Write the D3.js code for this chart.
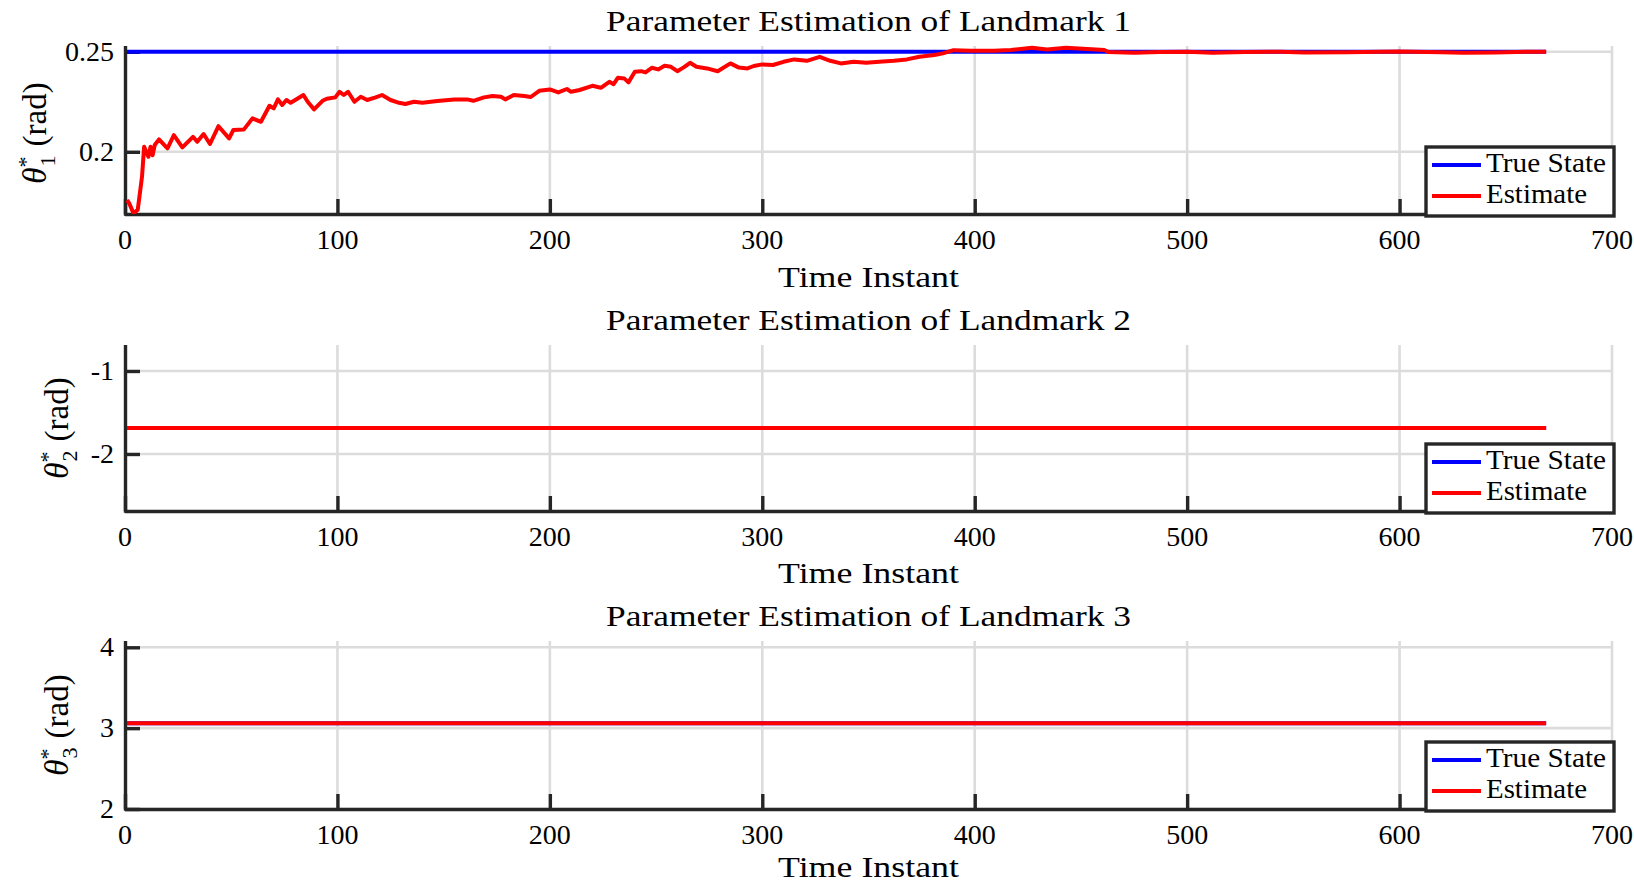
<!DOCTYPE html>
<html><head><meta charset="utf-8">
<script src="https://cdn.jsdelivr.net/npm/d3@7"></script>
<style>
body{margin:0;background:#fff}
svg{display:block}
svg text{font-family:'Liberation Serif','Times New Roman',Times,'Nimbus Roman',serif;fill:#000}
</style>
</head><body>
<svg id="c" width="1634" height="883"></svg>
<script>
// ---------------- data ----------------
const xTicks = [0, 100, 200, 300, 400, 500, 600, 700];
const xTickLabels = ["0", "100", "200", "300", "400", "500", "600", "700"];
const titles = ["Parameter Estimation of Landmark 1", "Parameter Estimation of Landmark 2", "Parameter Estimation of Landmark 3"];
const landmarkIds = ["1", "2", "3"];
const xLabel = "Time Instant";
const legendLabels = ["True State", "Estimate"];

const yTicks1 = [0.2, 0.25];
const yTickLabels1 = ["0.2", "0.25"];
const yTicks2 = [-2, -1];
const yTickLabels2 = ["-2", "-1"];
const yTicks3 = [2, 3, 4];
const yTickLabels3 = ["2", "3", "4"];
const yDomain1 = [0.1689, 0.2529];
const yDomain2 = [-2.687, -0.687];
const yDomain3 = [2, 4.078];

const timeTrue = [1, 669];
const true1 = [0.25, 0.25];
const true2 = [-1.687, -1.687];
const true3 = [3.062, 3.062];

const timeEst23 = [1, 669];
const est2 = [-1.687, -1.687];
const est3 = [3.062, 3.062];

const timeEst1 = [1,2,4,6,8,9,11,12,13,14,16,20,23,27,32,34,37,40,44,49,51,56,60,64,68,70,72,74,76,78,84,86,89,93,95,99,101,103,105,108,111,114,118,121,125,129,132,136,140,147,155,161,164,169,173,177,179,183,188,191,195,200,204,208,210,214,220,224,228,230,232,235,237,240,243,245,248,251,254,257,260,263,266,269,274,279,285,289,293,296,300,305,310,315,321,327,332,337,343,349,355,362,368,374,381,385,390,398,409,417,427,434,443,453,461,463,475,487,500,512,527,544,555,575,600,620,630,645,660,669];
const est1 = [0.1758,0.1742,0.1692,0.171,0.1875,0.2025,0.1975,0.2025,0.1983,0.2034,0.2062,0.2017,0.2083,0.2022,0.2075,0.205,0.2089,0.2039,0.2128,0.2067,0.2109,0.2112,0.2167,0.215,0.223,0.2217,0.2262,0.2234,0.2259,0.2245,0.2284,0.225,0.2212,0.2255,0.2265,0.2272,0.23,0.2284,0.23,0.225,0.2275,0.2259,0.2272,0.2284,0.2259,0.2245,0.2239,0.225,0.2245,0.2254,0.2262,0.2262,0.2255,0.2272,0.2279,0.2275,0.2262,0.2284,0.2279,0.2274,0.2305,0.2312,0.2297,0.2314,0.23,0.2309,0.233,0.232,0.235,0.2338,0.237,0.2367,0.2347,0.24,0.2403,0.2397,0.242,0.2412,0.243,0.2425,0.2403,0.2422,0.2445,0.2425,0.2417,0.2403,0.2442,0.2421,0.2417,0.2429,0.2437,0.2434,0.245,0.2462,0.2455,0.2475,0.2455,0.2442,0.245,0.2445,0.245,0.2455,0.2462,0.2475,0.2484,0.2492,0.2508,0.2505,0.2505,0.2509,0.252,0.2512,0.252,0.2514,0.2509,0.2499,0.2495,0.2499,0.25,0.2495,0.2499,0.25,0.2496,0.2498,0.2501,0.2498,0.2495,0.2497,0.25,0.25];

// ---------------- layout ----------------
const svg = d3.select("#c");
const X0 = 125, X1 = 1612;
const tops = [46, 345, 641];
const bottoms = [214, 511, 809];
const xLabelY = [287, 583, 877];
const yLabelX = [46, 68, 68];
const yLabelY = [133, 428, 725];
const axisColor = "#262626";
const gridColor = "#dcdcdc";
const blue = "#0000ff", red = "#ff0000";

const panels = [
  {yTicks: yTicks1, yTickLabels: yTickLabels1, yDomain: yDomain1, tTrue: timeTrue, vTrue: true1, tEst: timeEst1, vEst: est1},
  {yTicks: yTicks2, yTickLabels: yTickLabels2, yDomain: yDomain2, tTrue: timeTrue, vTrue: true2, tEst: timeEst23, vEst: est2},
  {yTicks: yTicks3, yTickLabels: yTickLabels3, yDomain: yDomain3, tTrue: timeTrue, vTrue: true3, tEst: timeEst23, vEst: est3}
];

const x = d3.scaleLinear().domain([0, 700]).range([X0, X1]);

panels.forEach((p, i) => {
  const top = tops[i], bot = bottoms[i];
  const y = d3.scaleLinear().domain(p.yDomain).range([bot, top]);
  const g = svg.append("g");

  const clipId = "clip" + i;
  svg.append("clipPath").attr("id", clipId).append("rect")
    .attr("x", X0).attr("y", top - 3).attr("width", X1 - X0 + 2).attr("height", bot - top + 3);

  // grid
  g.append("g").selectAll("line").data(xTicks.filter(d => d > 0)).join("line")
    .attr("x1", d => x(d)).attr("x2", d => x(d)).attr("y1", top).attr("y2", bot)
    .attr("stroke", gridColor).attr("stroke-width", 2.6);
  g.append("g").selectAll("line").data(p.yTicks).join("line")
    .attr("x1", X0).attr("x2", X1).attr("y1", d => y(d)).attr("y2", d => y(d))
    .attr("stroke", gridColor).attr("stroke-width", 2.6);

  // axes (inward ticks) via d3 axes
  const xAxis = d3.axisBottom(x).tickValues(xTicks).tickSize(-15).tickFormat("");
  const xa = g.append("g").attr("transform", `translate(0,${bot})`).call(xAxis);
  const yAxis = d3.axisLeft(y).tickValues(p.yTicks).tickSize(-15).tickFormat("");
  const ya = g.append("g").attr("transform", `translate(${X0},0)`).call(yAxis);
  [xa, ya].forEach(a => {
    a.select(".domain").attr("stroke", axisColor).attr("stroke-width", 3.4);
    a.selectAll(".tick line").attr("stroke", axisColor).attr("stroke-width", 3.4);
  });
  xa.select(".domain").attr("d", `M${X0},0.5H${X1}`);
  ya.select(".domain").attr("d", `M0.5,${top}V${bot + 1.7}`);

  // tick labels
  g.append("g").selectAll("text").data(xTicks).join("text")
    .attr("x", d => x(d)).attr("y", bot + 35).attr("text-anchor", "middle")
    .attr("font-size", 28).text((d, k) => xTickLabels[k]);
  g.append("g").selectAll("text").data(p.yTicks).join("text")
    .attr("x", X0 - 11).attr("y", d => y(d) + 9).attr("text-anchor", "end")
    .attr("font-size", 28).text((d, k) => p.yTickLabels[k]);

  // lines
  const line = d3.line().x(d => x(d[0])).y(d => y(d[1]));
  const lg = g.append("g").attr("clip-path", `url(#${clipId})`);
  lg.append("path").datum(p.tTrue.map((t, k) => [t, p.vTrue[k]]))
    .attr("d", line).attr("fill", "none").attr("stroke", blue).attr("stroke-width", 4);
  lg.append("path").datum(p.tEst.map((t, k) => [t, p.vEst[k]]))
    .attr("d", line).attr("fill", "none").attr("stroke", red).attr("stroke-width", 4)
    .attr("stroke-linejoin", "round");

  // title
  g.append("text").attr("x", (X0 + X1) / 2).attr("y", top - 15).attr("text-anchor", "middle")
    .attr("font-size", 29).attr("textLength", 525).attr("lengthAdjust", "spacingAndGlyphs")
    .text(titles[i]);
  // x label
  g.append("text").attr("x", (X0 + X1) / 2).attr("y", xLabelY[i]).attr("text-anchor", "middle")
    .attr("font-size", 29).attr("textLength", 181).attr("lengthAdjust", "spacingAndGlyphs")
    .text(xLabel);
  // y label
  const yl = g.append("text").attr("transform", `translate(${yLabelX[i]},${yLabelY[i]}) rotate(-90)`)
    .attr("text-anchor", "middle").attr("font-size", 33);
  yl.append("tspan").attr("font-style", "italic").text("θ");
  yl.append("tspan").attr("font-size", 22).attr("dy", -13).text("*");
  yl.append("tspan").attr("font-size", 22).attr("dx", -10).attr("dy", 22).text(landmarkIds[i]);
  yl.append("tspan").attr("dy", -9).attr("dx", 9).text("(rad)");

  // legend
  const lw = 188, lh = 69;
  const lx = 1426, ly = bot + 2 - lh;
  const leg = g.append("g");
  leg.append("rect").attr("x", lx).attr("y", ly).attr("width", lw).attr("height", lh)
    .attr("fill", "#fff").attr("stroke", axisColor).attr("stroke-width", 3.4);
  const rows = [ly + 18, ly + 49];
  const cols = [blue, red];
  const widths = [120, 101];
  legendLabels.forEach((lab, k) => {
    leg.append("line").attr("x1", lx + 6).attr("x2", lx + 55).attr("y1", rows[k]).attr("y2", rows[k])
      .attr("stroke", cols[k]).attr("stroke-width", 4);
    leg.append("text").attr("x", lx + 60).attr("y", rows[k] + 7).attr("font-size", 27)
      .attr("textLength", widths[k]).attr("lengthAdjust", "spacingAndGlyphs").text(lab);
  });
});
</script>
</body></html>
